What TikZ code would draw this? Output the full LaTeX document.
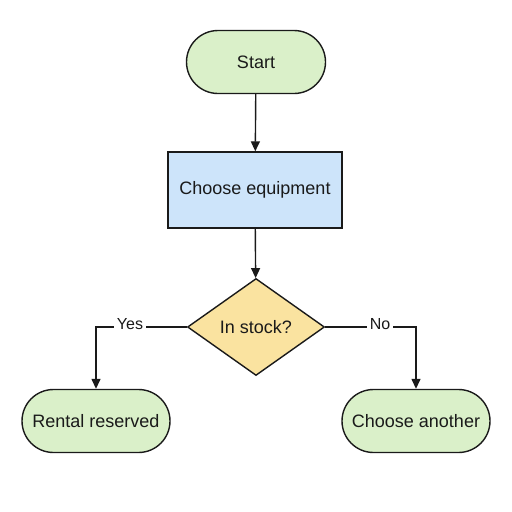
\documentclass[tikz,border=0pt]{standalone}
\usepackage{fontspec}
\setmainfont{Liberation Sans}
\usetikzlibrary{shapes.geometric,arrows.meta}
\definecolor{termfill}{HTML}{DAF0C9}
\definecolor{procfill}{HTML}{CDE4FA}
\definecolor{decfill}{HTML}{FAE3A0}
\definecolor{linec}{HTML}{1A1A1A}
\tikzset{
  base/.style={draw=linec, line width=1.4pt, font=\fontsize{18}{20}\selectfont, text=linec, inner sep=0pt},
  term/.style={base, rounded rectangle, fill=termfill, minimum width=139pt, minimum height=63pt},
  proc/.style={base, rectangle, fill=procfill, minimum width=174pt, minimum height=76pt},
  dec/.style={base, diamond, fill=decfill, minimum width=137pt, minimum height=97pt, aspect=1.41},
  conn/.style={draw=linec, line width=1.4pt, -{Triangle[length=10pt,width=9pt]}},
  lab/.style={font=\fontsize{16}{18}\selectfont, text=linec, fill=white, inner sep=3pt}
}
\usetikzlibrary{shapes.misc}
\begin{document}
\begin{tikzpicture}[x=1pt,y=-1pt]
\useasboundingbox (0,0) rectangle (512,512);
\fill[white] (0,0) rectangle (512,512);
\node[term] (start) at (256,62) {Start};
\node[proc] (choose) at (255,190) {Choose equipment};
\node[dec] (stock) at (256,327) {In stock?};
\node[term, minimum width=148pt] (rent) at (96,421) {Rental reserved};
\node[term, minimum width=148pt] (another) at (416,421) {Choose another};
\draw[conn] (start) -- (choose);
\draw[conn] (choose) -- (stock);
\draw[conn] (stock.west) -- (rent.north |- stock.west) -- (rent.north);
\draw[conn] (stock.east) -- (another.north |- stock.east) -- (another.north);
\node[lab] (yes) at (130,324) {Yes};
\node[lab] (no) at (380,324) {No};
\end{tikzpicture}
\end{document}
